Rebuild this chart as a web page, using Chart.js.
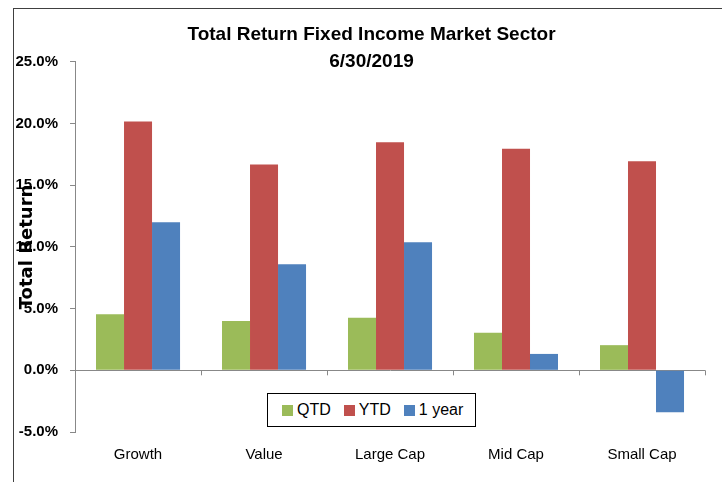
<!DOCTYPE html>
<html>
<head>
<meta charset="utf-8">
<script src="https://cdn.jsdelivr.net/npm/chart.js@4"></script>
<style>
    html, body { margin: 0; padding: 0; background: #fff; }
    #wrap { position: relative; width: 722px; height: 482px; overflow: hidden; }
    #frame { position: absolute; left: 13px; top: 8px; width: 760px; height: 520px; border: 1px solid #404040; }
    #returnChart { position: absolute; left: 0; top: 0; }
    #legend {
        position: absolute; left: 267px; top: 393px; width: 193px; height: 32px;
        border: 1px solid #000; background: #fff;
        display: flex; align-items: center; padding-left: 14px; box-sizing: content-box;
        font-family: 'Liberation Sans', Arial, sans-serif; font-size: 16px; color: #000;
        white-space: nowrap;
    }
    #legend .item { display: flex; align-items: center; margin-right: 13px; flex-shrink: 0; }
    #legend .item:last-child { margin-right: 0; }
    #legend .box { width: 11px; height: 11px; margin-right: 4px; flex-shrink: 0; }
</style>
</head>
<body>
<div id="wrap">
    <div id="frame"></div>
    <canvas id="returnChart" width="722" height="482"></canvas>
    <div id="legend"></div>
</div>
<script>
const categories = ['Growth', 'Value', 'Large Cap', 'Mid Cap', 'Small Cap'];
const qtd = [4.54, 4.0, 4.27, 3.04, 2.04];
const ytd = [20.17, 16.69, 18.5, 17.97, 16.96];
const oneYear = [12.0, 8.6, 10.38, 1.33, -3.4];
const seriesNames = ['QTD', 'YTD', '1 year'];
const seriesColors = ['#9BBB59', '#C0504D', '#4F81BD'];
const titleLines = ['Total Return Fixed Income Market Sector', '6/30/2019'];
const yTicks = [-5, 0, 5, 10, 15, 20, 25];

document.addEventListener('DOMContentLoaded', () => {
    displayChart();
});

// small tick marks on the zero line between categories
const zeroTicks = {
    id: 'zeroTicks',
    afterDraw(chart) {
        const x = chart.scales.x;
        const y = chart.scales.y;
        const y0 = y.getPixelForValue(0);
        const ctx = chart.ctx;
        ctx.save();
        ctx.strokeStyle = '#888';
        ctx.lineWidth = 1;
        ctx.beginPath();
        for (let i = 0; i < categories.length; i++) {
            const px = Math.round(x.getPixelForValue(i + 0.5)) + 0.5;
            ctx.moveTo(px, y0);
            ctx.lineTo(px, y0 + 5);
        }
        ctx.stroke();
        ctx.restore();
    }
};

// the title is centred on the outer frame, not on the canvas
const titleShift = {
    id: 'titleShift',
    afterLayout(chart) {
        if (chart.titleBlock) {
            chart.titleBlock.left = 38;
        }
    }
};

function displayChart() {
    Chart.defaults.font.family = "'Liberation Sans', Arial, sans-serif";
    Chart.defaults.color = '#000';

    const values = [qtd, ytd, oneYear];
    const datasets = seriesNames.map((name, i) => ({
        label: name,
        data: values[i],
        backgroundColor: seriesColors[i],
        categoryPercentage: 0.667,
        barPercentage: 1
    }));

    const ctx = document.getElementById('returnChart').getContext('2d');
    const chart = new Chart(ctx, {
        type: 'bar',
        data: {
            labels: categories,
            datasets: datasets
        },
        plugins: [zeroTicks, titleShift],
        options: {
            responsive: false,
            animation: false,
            layout: {
                padding: { left: 0, right: 17, top: 0, bottom: 4 }
            },
            plugins: {
                legend: { display: false },
                tooltip: { enabled: false },
                title: {
                    display: true,
                    text: titleLines,
                    font: { size: 19, weight: 'bold', lineHeight: 1.42 },
                    color: '#000',
                    padding: { top: 21.5, bottom: -13.5 }
                }
            },
            scales: {
                x: {
                    grid: { display: false, drawTicks: false },
                    border: { display: false },
                    ticks: {
                        font: { size: 15 },
                        padding: 14,
                        maxRotation: 0
                    }
                },
                y: {
                    min: -5,
                    max: 25,
                    afterBuildTicks: (scale) => {
                        scale.ticks = yTicks.map(v => ({ value: v }));
                    },
                    ticks: {
                        font: { size: 15, weight: 'bold' },
                        padding: 12,
                        callback: (v) => v.toFixed(1) + '%'
                    },
                    grid: {
                        color: (c) => (c.tick && c.tick.value === 0) ? '#888' : 'rgba(0,0,0,0)',
                        tickColor: '#888',
                        tickLength: 5,
                        drawTicks: true
                    },
                    border: { display: true, color: '#888' },
                    title: {
                        display: true,
                        text: 'Total Return',
                        font: { family: "'DejaVu Sans', sans-serif", size: 18, weight: 'bold', lineHeight: 1.2 },
                        color: '#000',
                        padding: { top: 16.2, bottom: -34.3 }
                    }
                }
            }
        }
    });

    // legend box inside the plot, built from the datasets
    const legend = document.getElementById('legend');
    chart.data.datasets.forEach(ds => {
        const item = document.createElement('div');
        item.className = 'item';
        const box = document.createElement('span');
        box.className = 'box';
        box.style.background = ds.backgroundColor;
        const label = document.createElement('span');
        label.textContent = ds.label;
        item.appendChild(box);
        item.appendChild(label);
        legend.appendChild(item);
    });
}
</script>
</body>
</html>
